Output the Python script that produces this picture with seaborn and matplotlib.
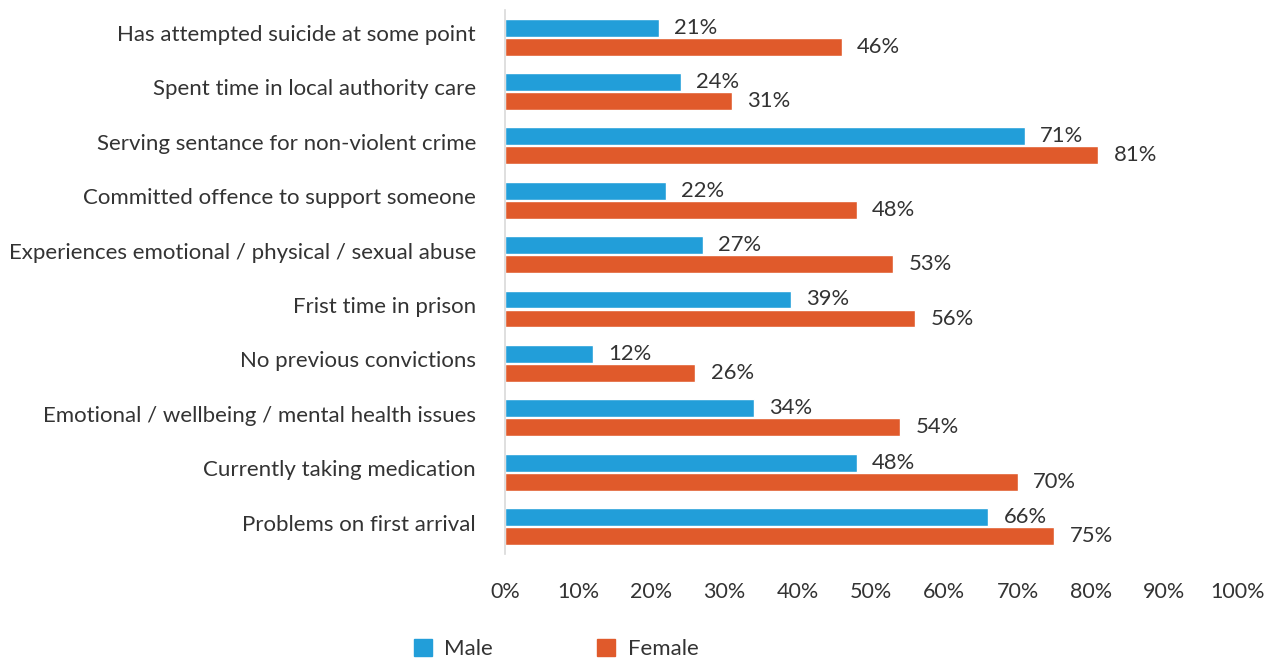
import pandas as pd
import matplotlib.pyplot as plt
import matplotlib.transforms as mtransforms
import seaborn as sns
from matplotlib.patches import Patch

categories = [
    "Has attempted suicide at some point",
    "Spent time in local authority care",
    "Serving sentance for non-violent crime",
    "Committed offence to support someone",
    "Experiences emotional / physical / sexual abuse",
    "Frist time in prison",
    "No previous convictions",
    "Emotional / wellbeing / mental health issues",
    "Currently taking medication",
    "Problems on first arrival",
]
male = [21, 24, 71, 22, 27, 39, 12, 34, 48, 66]
female = [46, 31, 81, 48, 53, 56, 26, 54, 70, 75]
ticks = [0, 10, 20, 30, 40, 50, 60, 70, 80, 90, 100]

colors = {"Male": "#229ed9", "Female": "#e05a2b"}
text_col = "#333333"

df = pd.DataFrame({
    "item": categories * 2,
    "value": male + female,
    "sex": ["Male"] * len(male) + ["Female"] * len(female),
})

sns.set_style("white")
plt.rcParams["font.family"] = ["Lato", "DejaVu Sans"]

fig = plt.figure(figsize=(12.69, 6.6), dpi=100)
ax = fig.add_axes([0.398, 0.161, 0.577, 0.824])

sns.barplot(data=df, y="item", x="value", hue="sex", orient="h",
            palette=colors, width=0.7, gap=0.06, saturation=1,
            legend=False, ax=ax)

for cont in ax.containers:
    ax.bar_label(cont, labels=[f"{v:.0f}%" for v in cont.datavalues],
                 padding=11, fontsize=15.8, color=text_col)

ax.set_xlim(0, 100)
ax.set_ylim(9.5, -0.5)
ax.set_xticks(ticks)
ax.set_xticklabels([f"{t}%" for t in ticks])
ax.tick_params(axis="x", length=0, pad=20, labelsize=15.5, colors=text_col)
ax.tick_params(axis="y", length=0, pad=21, labelsize=16, colors=text_col)
ax.set_xlabel("")
ax.set_ylabel("")

# nudge category labels up a little, as in the original
shift = mtransforms.ScaledTranslation(0, 4 / 100, fig.dpi_scale_trans)
for lbl in ax.get_yticklabels():
    lbl.set_transform(lbl.get_transform() + shift)

for s in ["top", "right", "bottom"]:
    ax.spines[s].set_visible(False)
ax.spines["left"].set_color("#d9d9d9")
ax.spines["left"].set_linewidth(1.2)

handles = [Patch(color=colors["Male"], label="Male"),
           Patch(color=colors["Female"], label="Female")]
fig.legend(handles=handles, loc="center", bbox_to_anchor=(556 / 1269, 1 - 649 / 660),
           ncol=2, frameon=False, fontsize=16, handlelength=0.82, handleheight=0.82,
           handletextpad=0.55, columnspacing=4.7, labelcolor=text_col)

fig.savefig("out.png", dpi=100)
